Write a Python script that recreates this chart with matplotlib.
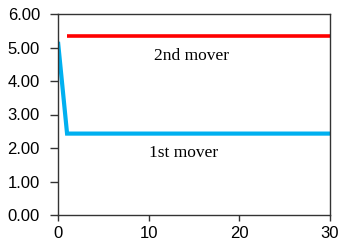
import matplotlib
matplotlib.use("Agg")
import matplotlib.pyplot as plt
import numpy as np

periods = list(range(0, 31))
first_mover = [5.17] + [2.43] * 30
second_mover = [np.nan] + [5.33] * 30
y_ticks = [0, 1, 2, 3, 4, 5, 6]
x_ticks = [0, 10, 20, 30]

fig = plt.figure(figsize=(3.42, 2.42), dpi=100)
ax = fig.add_axes([58/342, 27/242, 272/342, 201/242])
ax.plot(periods, second_mover, color="#FF0000", lw=2.6, solid_capstyle="butt")
ax.plot(periods, first_mover, color="#00B0F0", lw=3.0, solid_joinstyle="miter", solid_capstyle="butt")
ax.set_xlim(0, 30)
ax.set_ylim(0, 6)
ax.set_yticks(y_ticks)
ax.set_yticklabels([f"{v:.2f}" for v in y_ticks])
ax.set_xticks(x_ticks)
for lab in ax.get_xticklabels() + ax.get_yticklabels():
    lab.set_fontfamily("Liberation Sans")
    lab.set_fontsize(12)
ax.tick_params(axis="y", direction="out", length=5.5, width=1, color="#333333", pad=7.5)
ax.tick_params(axis="x", direction="out", length=4, width=1, color="#333333", pad=4)
for s in ax.spines.values():
    s.set_color("#333333")
    s.set_linewidth(1)
ax.text(14.7, 4.75, "2nd mover", family="Liberation Serif", fontsize=12.5, ha="center", va="center")
ax.text(13.85, 1.85, "1st mover", family="Liberation Serif", fontsize=12.5, ha="center", va="center")
fig.savefig("out.png", dpi=100)
